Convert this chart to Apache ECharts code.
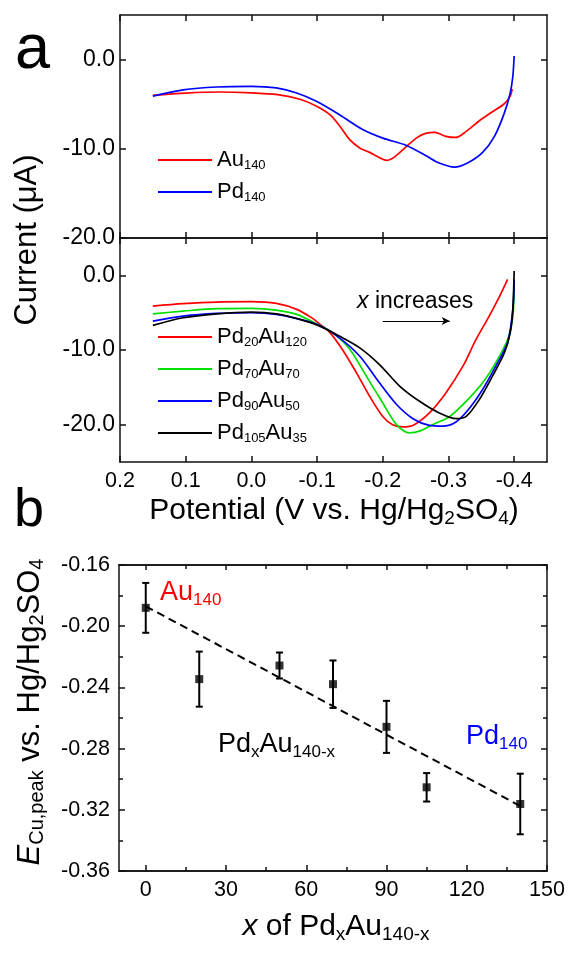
<!DOCTYPE html>
<html><head><meta charset="utf-8">
<script src="https://cdn.jsdelivr.net/npm/echarts@6/dist/echarts.min.js"></script>
<style>html,body{margin:0;padding:0;background:#fff}#c{width:569px;height:956px}</style>
</head><body><div id="c"></div>
<script>
// ---------- DATA ----------
const potentialTicks = [0.2, 0.1, 0.0, -0.1, -0.2, -0.3, -0.4];
const currentTicks = [0, -10, -20];
// panel a (top): [potential V, current uA]
const au140 = [[0.15,-4.0],[0.10,-3.75],[0.05,-3.63],[0.0,-3.72],[-0.04,-3.93],[-0.074,-4.45],[-0.10,-5.25],[-0.12,-6.2],[-0.135,-7.5],[-0.15,-9.0],[-0.165,-9.9],[-0.18,-10.4],[-0.195,-11.0],[-0.206,-11.3],[-0.218,-10.9],[-0.236,-9.75],[-0.251,-8.8],[-0.264,-8.3],[-0.279,-8.15],[-0.296,-8.6],[-0.311,-8.73],[-0.327,-8.05],[-0.347,-6.85],[-0.367,-5.85],[-0.385,-4.95],[-0.394,-4.1],[-0.397,-3.3]];
const pd140 = [[0.15,-4.1],[0.104,-3.4],[0.053,-3.07],[0.0,-3.0],[-0.038,-3.18],[-0.069,-3.75],[-0.099,-4.68],[-0.134,-6.18],[-0.17,-7.87],[-0.2,-8.8],[-0.236,-9.63],[-0.266,-10.79],[-0.286,-11.6],[-0.309,-12.06],[-0.329,-11.6],[-0.352,-10.41],[-0.37,-8.61],[-0.385,-6.0],[-0.394,-3.75],[-0.398,-1.87],[-0.4,0.4]];
// panel a (bottom)
const pd20au120 = [[0.15,-4.12],[0.104,-3.8],[0.053,-3.58],[0.0,-3.53],[-0.038,-3.76],[-0.069,-4.56],[-0.092,-5.7],[-0.105,-6.6],[-0.119,-7.6],[-0.139,-10.0],[-0.16,-13.06],[-0.18,-16.2],[-0.2,-18.9],[-0.215,-20.0],[-0.231,-20.3],[-0.248,-20.0],[-0.271,-18.43],[-0.296,-15.75],[-0.322,-12.17],[-0.342,-8.59],[-0.362,-5.46],[-0.378,-2.78],[-0.39,-0.54]];
const pd70au70 = [[0.15,-5.15],[0.104,-4.79],[0.053,-4.47],[0.0,-4.43],[-0.038,-4.65],[-0.069,-5.23],[-0.099,-6.49],[-0.124,-7.7],[-0.15,-9.93],[-0.175,-13.5],[-0.2,-17.1],[-0.221,-20.0],[-0.241,-21.1],[-0.258,-20.8],[-0.276,-20.0],[-0.302,-18.9],[-0.327,-16.87],[-0.352,-14.4],[-0.372,-11.7],[-0.39,-8.59],[-0.398,-5.46],[-0.4,-1.0]];
const pd90au50 = [[0.15,-6.13],[0.104,-5.46],[0.053,-5.1],[0.0,-5.01],[-0.038,-5.23],[-0.074,-5.9],[-0.104,-6.71],[-0.134,-8.37],[-0.165,-10.83],[-0.195,-14.4],[-0.221,-17.3],[-0.246,-19.2],[-0.271,-20.1],[-0.291,-20.2],[-0.312,-19.6],[-0.332,-17.8],[-0.352,-15.3],[-0.372,-12.17],[-0.39,-9.0],[-0.398,-4.56],[-0.4,-0.54]];
const pd105au35 = [[0.15,-6.71],[0.104,-5.68],[0.053,-5.15],[0.0,-4.92],[-0.038,-5.15],[-0.074,-5.9],[-0.104,-6.8],[-0.134,-8.14],[-0.165,-9.71],[-0.195,-11.95],[-0.226,-14.86],[-0.256,-16.87],[-0.286,-18.43],[-0.312,-19.2],[-0.327,-18.9],[-0.347,-16.64],[-0.367,-13.5],[-0.385,-10.4],[-0.394,-7.7],[-0.398,-4.56],[-0.4,0.58]];
const arrowStart = [-0.2, -6.1];
const arrowEnd = [-0.302, -6.1];
// panel b
const xValues = [0, 20, 50, 70, 90, 105, 140];
const peakE = [-0.188, -0.2346, -0.2257, -0.2379, -0.2658, -0.3053, -0.3162];
const peakErr = [0.0163, 0.018, 0.0085, 0.0155, 0.017, 0.0093, 0.0198];
const fitX = [0, 140];
const fitY = [-0.187, -0.3175];
const xTicksB = [0, 30, 60, 90, 120, 150];
const xMinorB = [15, 45, 75, 105, 135];

// ---------- CHART ----------
const FF = '"Liberation Sans", Arial, Helvetica, sans-serif';
const AX = {color: '#111', width: 1.5};
const chart = echarts.init(document.getElementById('c'), null, {renderer: 'canvas'});

function mkAxis(o) {
  return Object.assign({
    type: 'value', scale: false,
    axisLine: {show: true, onZero: false, lineStyle: AX},
    splitLine: {show: false},
    axisTick: {show: true, inside: true, length: 6, lineStyle: AX},
    axisLabel: {show: false}
  }, o);
}
const tickLbl = {show: true, color: '#000', fontFamily: FF, fontSize: 21.5};
const fmt1 = v => (Math.abs(v) < 1e-9 ? 0 : v).toFixed(1);

const xAxes = [
  mkAxis({gridIndex: 0, position: 'bottom', min: -0.45, max: 0.2, inverse: true,
    axisTick: {show: true, inside: true, length: 6, lineStyle: AX, customValues: potentialTicks}}),
  mkAxis({gridIndex: 0, position: 'top', min: -0.45, max: 0.2, inverse: true,
    axisTick: {show: true, inside: true, length: 6, lineStyle: AX, customValues: potentialTicks}}),
  mkAxis({gridIndex: 1, position: 'bottom', min: -0.45, max: 0.2, inverse: true,
    axisTick: {show: true, inside: true, length: 6, lineStyle: AX, customValues: potentialTicks},
    axisLabel: Object.assign({}, tickLbl, {customValues: potentialTicks, margin: 8, formatter: fmt1})}),
  mkAxis({gridIndex: 1, position: 'top', min: -0.45, max: 0.2, inverse: true,
    axisTick: {show: true, inside: true, length: 6, lineStyle: AX, customValues: potentialTicks}}),
  mkAxis({gridIndex: 2, position: 'bottom', min: -10, max: 150,
    axisTick: {show: true, inside: true, length: 6, lineStyle: AX, customValues: xTicksB},
    axisLabel: Object.assign({}, tickLbl, {customValues: xTicksB, margin: 8, formatter: v => String(v)})}),
  mkAxis({gridIndex: 2, position: 'bottom', min: -10, max: 150,
    axisTick: {show: true, inside: true, length: 4, lineStyle: AX, customValues: xMinorB}}),
  mkAxis({gridIndex: 2, position: 'top', min: -10, max: 150,
    axisTick: {show: true, inside: true, length: 5, lineStyle: AX, customValues: xTicksB}}),
  mkAxis({gridIndex: 2, position: 'top', min: -10, max: 150,
    axisTick: {show: true, inside: true, length: 4, lineStyle: AX, customValues: xMinorB}})
];
const yAxes = [
  mkAxis({gridIndex: 0, position: 'left', min: -20, max: 5,
    axisTick: {show: true, inside: true, length: 6, lineStyle: AX, customValues: currentTicks},
    axisLabel: Object.assign({}, tickLbl, {fontSize: 23, customValues: currentTicks, margin: 5, formatter: fmt1})}),
  mkAxis({gridIndex: 0, position: 'right', min: -20, max: 5,
    axisTick: {show: true, inside: true, length: 6, lineStyle: AX, customValues: currentTicks}}),
  mkAxis({gridIndex: 1, position: 'left', min: -25, max: 5,
    axisTick: {show: true, inside: true, length: 6, lineStyle: AX, customValues: currentTicks},
    axisLabel: Object.assign({}, tickLbl, {fontSize: 23, customValues: currentTicks, margin: 5, formatter: fmt1})}),
  mkAxis({gridIndex: 1, position: 'right', min: -25, max: 5,
    axisTick: {show: true, inside: true, length: 6, lineStyle: AX, customValues: currentTicks}}),
  mkAxis({gridIndex: 2, position: 'left', min: -0.36, max: -0.16, interval: 0.04,
    minorTick: {show: true, splitNumber: 2, length: 4, lineStyle: AX},
    axisLabel: Object.assign({}, tickLbl, {margin: 9, formatter: v => v.toFixed(2)})}),
  mkAxis({gridIndex: 2, position: 'right', min: -0.36, max: -0.16, interval: 0.04,
    minorTick: {show: true, splitNumber: 2, length: 4, lineStyle: AX}})
];

function curve(name, data, color, xi, yi) {
  return {type: 'line', name, data, xAxisIndex: xi, yAxisIndex: yi, showSymbol: false, symbol: 'none',
    smooth: 0.3, lineStyle: {color, width: 1.7}, itemStyle: {color}, animation: false, z: 3};
}

const legRich = {
  n: {fontSize: 22, fontFamily: FF, lineHeight: 24, color: '#000'},
  s: {fontSize: 13, fontFamily: FF, lineHeight: 6, verticalAlign: 'bottom', color: '#000'}
};
const legendNames = {
  'Au140': '{n|Au}{s|140}', 'Pd140': '{n|Pd}{s|140}',
  'Pd20Au120': '{n|Pd}{s|20}{n|Au}{s|120}', 'Pd70Au70': '{n|Pd}{s|70}{n|Au}{s|70}',
  'Pd90Au50': '{n|Pd}{s|90}{n|Au}{s|50}', 'Pd105Au35': '{n|Pd}{s|105}{n|Au}{s|35}'
};
function legend(names, top) {
  return {data: names, left: 158, top, orient: 'vertical', icon: 'rect', itemWidth: 54, itemHeight: 2,
    itemGap: 9, padding: 0, selectedMode: false,
    formatter: n => legendNames[n], textStyle: {rich: legRich, fontFamily: FF, fontSize: 22}};
}

const errData = xValues.map((x, i) => [x, peakE[i] - peakErr[i], peakE[i] + peakErr[i]]);

const series = [
  curve('Au140', au140, '#ff0000', 0, 0),
  curve('Pd140', pd140, '#0000ff', 0, 0),
  curve('Pd20Au120', pd20au120, '#ff0000', 2, 2),
  curve('Pd70Au70', pd70au70, '#00e000', 2, 2),
  curve('Pd90Au50', pd90au50, '#0000ff', 2, 2),
  Object.assign(curve('Pd105Au35', pd105au35, '#000000', 2, 2), {
    markLine: {silent: true, symbol: ['none', 'arrow'], symbolSize: [6, 8], animation: false,
      lineStyle: {color: '#000', width: 1, type: 'solid'}, label: {show: false},
      data: [[{coord: arrowStart}, {coord: arrowEnd}]]}
  }),
  {type: 'line', name: 'fit', xAxisIndex: 4, yAxisIndex: 4, data: fitX.map((x, i) => [x, fitY[i]]),
    showSymbol: false, symbol: 'none', lineStyle: {color: '#000', width: 2, type: [8, 5]}, animation: false, z: 2},
  {type: 'custom', name: 'err', xAxisIndex: 4, yAxisIndex: 4, data: errData, animation: false, z: 3,
    encode: {x: 0, y: [1, 2]},
    renderItem: (params, api) => {
      const x = api.value(0);
      const lo = api.coord([x, api.value(1)]);
      const hi = api.coord([x, api.value(2)]);
      const c = 3.5, st = {stroke: '#000', lineWidth: 2};
      return {type: 'group', children: [
        {type: 'line', shape: {x1: lo[0], y1: lo[1], x2: hi[0], y2: hi[1]}, style: st},
        {type: 'line', shape: {x1: lo[0] - c, y1: lo[1], x2: lo[0] + c, y2: lo[1]}, style: st},
        {type: 'line', shape: {x1: hi[0] - c, y1: hi[1], x2: hi[0] + c, y2: hi[1]}, style: st}
      ]};
    }},
  {type: 'scatter', name: 'E peak', xAxisIndex: 4, yAxisIndex: 4, data: xValues.map((x, i) => [x, peakE[i]]),
    symbol: 'rect', symbolSize: 8, itemStyle: {color: '#000'}, animation: false, z: 4}
];

function T(x, y, text, rich, extra) {
  return Object.assign({type: 'text', x, y, z: 100, silent: true,
    style: Object.assign({text, rich, fill: '#000', fontFamily: FF, align: 'left', verticalAlign: 'middle'}, extra && extra.style || {})},
    extra && extra.el || {});
}
const subR = (main, sub, lhM, lhS, color) => ({
  n: {fontSize: main, fontFamily: FF, lineHeight: lhM, fill: color || '#000'},
  i: {fontSize: main, fontFamily: FF, fontStyle: 'italic', lineHeight: lhM, fill: color || '#000'},
  s: {fontSize: sub, fontFamily: FF, lineHeight: lhS, verticalAlign: 'bottom', fill: color || '#000'}
});

const graphic = [
  T(15, 51, '{n|a}', {n: {fontSize: 63, fontFamily: FF, fill: '#000'}}),
  T(14, 511, '{n|b}', {n: {fontSize: 54, fontFamily: FF, fill: '#000'}}),
  T(27, 240, '{n|Current (μA)}', subR(31, 20, 34, 12), {style: {align: 'center'}, el: {rotation: Math.PI / 2}}),
  T(334, 511, '{n|Potential (V vs. Hg/Hg}{s|2}{n|SO}{s|4}{n|)}', subR(30, 19, 34, 12), {style: {align: 'center'}}),
  T(357, 302, '{i|x}{n| increases}', subR(23, 14, 24, 8)),
  T(160, 593, '{n|Au}{s|140}', subR(27, 17, 32, 9, '#ff0000')),
  T(466, 737, '{n|Pd}{s|140}', subR(27, 17, 32, 9, '#0000ff')),
  T(218, 745, '{n|Pd}{s|x}{n|Au}{s|140-x}', subR(27, 17, 32, 9)),
  T(30, 712, '{i|E}{s|Cu,peak}{n| vs. Hg/Hg}{s|2}{n|SO}{s|4}', subR(31, 20, 34, 12), {style: {align: 'center'}, el: {rotation: Math.PI / 2}}),
  T(336, 927, '{i|x}{n| of Pd}{s|x}{n|Au}{s|140-x}', subR(30, 19, 34, 12), {style: {align: 'center'}})
];

chart.setOption({
  animation: false,
  backgroundColor: '#fff',
  grid: [
    {left: 120, top: 15, width: 427, height: 223, containLabel: false},
    {left: 120, top: 238, width: 427, height: 224, containLabel: false},
    {left: 119, top: 565, width: 428, height: 306, containLabel: false}
  ],
  xAxis: xAxes,
  yAxis: yAxes,
  legend: [legend(['Au140', 'Pd140'], 149), legend(['Pd20Au120', 'Pd70Au70', 'Pd90Au50', 'Pd105Au35'], 326)],
  series,
  graphic
});
</script></body></html>
